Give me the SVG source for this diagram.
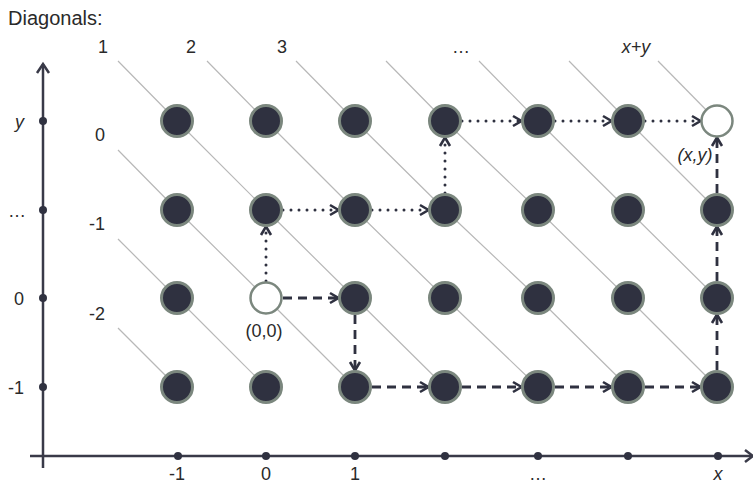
<svg xmlns="http://www.w3.org/2000/svg" width="753" height="485" viewBox="0 0 753 485">
<style>
text{font-family:"Liberation Sans",Arial,sans-serif;font-size:18px;fill:#2a2a2a}
.it{font-style:italic}
.mid{text-anchor:middle}
.diag{fill:none;stroke:#b8b8b8;stroke-width:1.2}
.axis{fill:none;stroke:#393a48;stroke-width:2.5}
.tick{fill:#2f3140}
.n{fill:#2f3140;stroke:#7b877e;stroke-width:3}
.w{fill:#ffffff;stroke:#7b877e;stroke-width:2.5}
.dot{fill:none;stroke:#2f3140;stroke-width:3;stroke-linecap:round;stroke-dasharray:0 8}
.dash{fill:none;stroke:#2f3140;stroke-width:2.8;stroke-dasharray:9 6}
</style>
<defs>
<marker id="ah" markerUnits="userSpaceOnUse" markerWidth="12" markerHeight="12" refX="9" refY="5" orient="auto" overflow="visible">
<path d="M1,0 L9.5,5 L1,10" fill="none" stroke="#2f3140" stroke-width="2.6" stroke-linejoin="miter"/>
</marker>
</defs>
<rect width="753" height="485" fill="#ffffff"/>
<text x="8" y="25" style="font-size:20px">Diagonals:</text>

<g id="diagonals">
<polyline class="diag" points="118,61 177,121 266,210 355,298 445,387"/>
<polyline class="diag" points="207,61 266,121 355,210 445,298 538,387"/>
<polyline class="diag" points="296,61 355,121 445,210 538,298 628,387"/>
<polyline class="diag" points="386,61 445,121 538,210 628,298 717,387"/>
<polyline class="diag" points="479,61 538,121 628,210 717,298"/>
<polyline class="diag" points="569,61 628,121 717,210"/>
<polyline class="diag" points="658,61 717,121"/>
<polyline class="diag" points="118,150 177,210 266,298 355,387"/>
<polyline class="diag" points="118,239 177,298 266,387"/>
<polyline class="diag" points="118,328 177,387"/>
</g>
<g id="diagonal-labels">
<text class="mid" x="103" y="53">1</text>
<text class="mid" x="191" y="53">2</text>
<text class="mid" x="282" y="53">3</text>
<text class="mid" x="461" y="53">…</text>
<text class="mid it" x="636" y="53">x+y</text>
<text class="mid" x="100" y="141">0</text>
<text class="mid" x="97" y="230">-1</text>
<text class="mid" x="97" y="320">-2</text>
</g>

<g id="axes">
<line class="axis" x1="43" y1="64" x2="43" y2="468"/>
<path class="axis" d="M37,73 L43,64 L49,73"/>
<line class="axis" x1="30" y1="456" x2="751" y2="456"/>
<path class="axis" d="M745,450 L753,456 L745,462"/>
<circle class="tick" cx="43" cy="121" r="4"/>
<circle class="tick" cx="43" cy="210" r="4"/>
<circle class="tick" cx="43" cy="298" r="4"/>
<circle class="tick" cx="43" cy="387" r="4"/>
<circle class="tick" cx="178" cy="456" r="4"/>
<circle class="tick" cx="266" cy="456" r="4"/>
<circle class="tick" cx="355" cy="456" r="4"/>
<circle class="tick" cx="445" cy="456" r="4"/>
<circle class="tick" cx="538" cy="456" r="4"/>
<circle class="tick" cx="628" cy="456" r="4"/>
<circle class="tick" cx="718" cy="456" r="4"/>
<text class="it" x="15" y="128">y</text>
<text x="8" y="217">…</text>
<text x="14" y="305">0</text>
<text x="8" y="394">-1</text>
<text class="mid" x="177" y="480">-1</text>
<text class="mid" x="266" y="480">0</text>
<text class="mid" x="355" y="480">1</text>
<text class="mid" x="538" y="480">…</text>
<text class="mid it" x="718" y="480">x</text>
</g>

<g id="connectors">
<line class="dot" x1="266" y1="281" x2="266" y2="227" marker-end="url(#ah)"/>
<line class="dot" x1="283" y1="210" x2="338" y2="210" marker-end="url(#ah)"/>
<line class="dot" x1="372" y1="210" x2="428" y2="210" marker-end="url(#ah)"/>
<line class="dot" x1="445" y1="193" x2="445" y2="138" marker-end="url(#ah)"/>
<line class="dot" x1="462" y1="121" x2="521" y2="121" marker-end="url(#ah)"/>
<line class="dot" x1="555" y1="121" x2="611" y2="121" marker-end="url(#ah)"/>
<line class="dot" x1="645" y1="121" x2="700" y2="121" marker-end="url(#ah)"/>
<line class="dash" x1="283" y1="298" x2="338" y2="298" marker-end="url(#ah)"/>
<line class="dash" x1="355" y1="315" x2="355" y2="370" marker-end="url(#ah)"/>
<line class="dash" x1="372" y1="387" x2="428" y2="387" marker-end="url(#ah)"/>
<line class="dash" x1="462" y1="387" x2="521" y2="387" marker-end="url(#ah)"/>
<line class="dash" x1="555" y1="387" x2="611" y2="387" marker-end="url(#ah)"/>
<line class="dash" x1="645" y1="387" x2="700" y2="387" marker-end="url(#ah)"/>
<line class="dash" x1="717" y1="370" x2="717" y2="315" marker-end="url(#ah)"/>
<line class="dash" x1="717" y1="281" x2="717" y2="227" marker-end="url(#ah)"/>
<line class="dash" x1="717" y1="193" x2="717" y2="138" marker-end="url(#ah)"/>
</g>

<g id="nodes">
<g id="n-m1-3"><circle class="n" cx="177" cy="121" r="15.5"/></g>
<g id="n-0-3"><circle class="n" cx="266" cy="121" r="15.5"/></g>
<g id="n-1-3"><circle class="n" cx="355" cy="121" r="15.5"/></g>
<g id="n-2-3"><circle class="n" cx="445" cy="121" r="15.5"/></g>
<g id="n-3-3"><circle class="n" cx="538" cy="121" r="15.5"/></g>
<g id="n-4-3"><circle class="n" cx="628" cy="121" r="15.5"/></g>
<g id="n-xy"><circle class="w" cx="717" cy="121" r="15.5"/><text class="mid it" x="695" y="161">(x,y)</text></g>
<g id="n-m1-2"><circle class="n" cx="177" cy="210" r="15.5"/></g>
<g id="n-0-2"><circle class="n" cx="266" cy="210" r="15.5"/></g>
<g id="n-1-2"><circle class="n" cx="355" cy="210" r="15.5"/></g>
<g id="n-2-2"><circle class="n" cx="445" cy="210" r="15.5"/></g>
<g id="n-3-2"><circle class="n" cx="538" cy="210" r="15.5"/></g>
<g id="n-4-2"><circle class="n" cx="628" cy="210" r="15.5"/></g>
<g id="n-5-2"><circle class="n" cx="717" cy="210" r="15.5"/></g>
<g id="n-m1-1"><circle class="n" cx="177" cy="298" r="15.5"/></g>
<g id="n-origin"><circle class="w" cx="266" cy="298" r="15.5"/><text class="mid" x="264" y="337">(0,0)</text></g>
<g id="n-1-1"><circle class="n" cx="355" cy="298" r="15.5"/></g>
<g id="n-2-1"><circle class="n" cx="445" cy="298" r="15.5"/></g>
<g id="n-3-1"><circle class="n" cx="538" cy="298" r="15.5"/></g>
<g id="n-4-1"><circle class="n" cx="628" cy="298" r="15.5"/></g>
<g id="n-5-1"><circle class="n" cx="717" cy="298" r="15.5"/></g>
<g id="n-m1-0"><circle class="n" cx="177" cy="387" r="15.5"/></g>
<g id="n-0-0"><circle class="n" cx="266" cy="387" r="15.5"/></g>
<g id="n-1-0"><circle class="n" cx="355" cy="387" r="15.5"/></g>
<g id="n-2-0"><circle class="n" cx="445" cy="387" r="15.5"/></g>
<g id="n-3-0"><circle class="n" cx="538" cy="387" r="15.5"/></g>
<g id="n-4-0"><circle class="n" cx="628" cy="387" r="15.5"/></g>
<g id="n-5-0"><circle class="n" cx="717" cy="387" r="15.5"/></g>
</g>
</svg>
